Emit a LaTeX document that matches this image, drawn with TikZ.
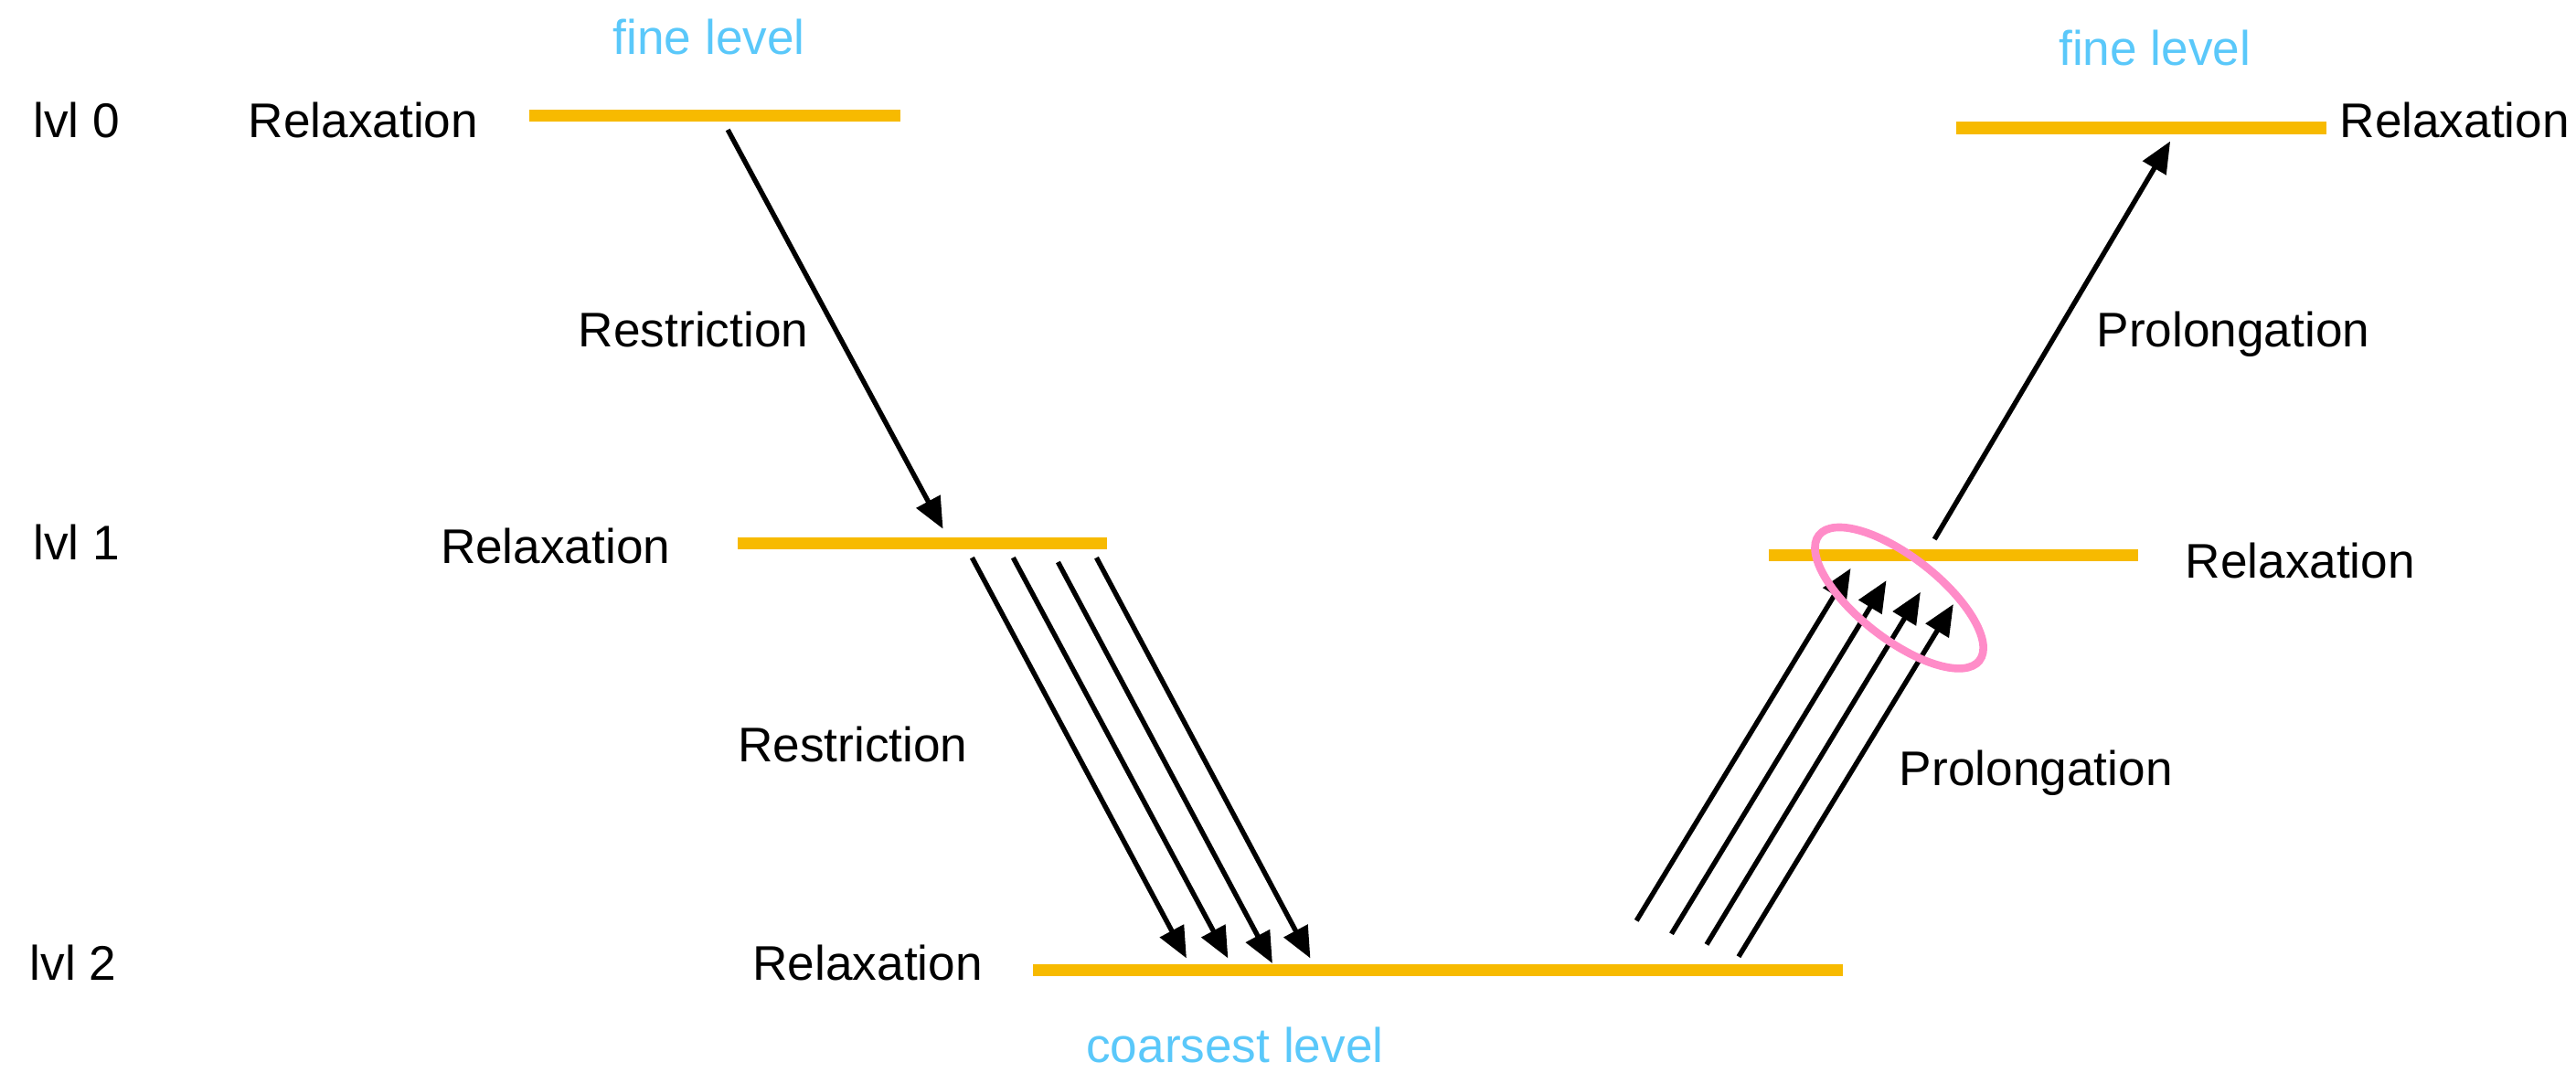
\documentclass[tikz,border=0pt]{standalone}
\usepackage{fontspec}
\setmainfont{Liberation Sans}
\usetikzlibrary{arrows.meta}
\definecolor{barc}{RGB}{247,186,0}
\definecolor{lvlblue}{RGB}{90,200,250}
\definecolor{ringpink}{RGB}{255,140,200}
\begin{document}
\begin{tikzpicture}[x=1pt,y=-1pt,
  lbl/.style={anchor=base west,inner sep=0pt,font=\fontsize{29.6}{34}\selectfont},
  bluelbl/.style={lbl,text=lvlblue},
  bar/.style={draw=barc,line width=7.4pt},
  arr/.style={line width=3pt,-{Triangle[length=19pt,width=16pt]}},
  ring/.style={draw=ringpink,line width=4.8pt}
  ]
\useasboundingbox (0,0) rectangle (1568,653);
% level bars
\coordinate (b0l) at (322,70.3);  \coordinate (b0r) at (548,70.3);
\coordinate (b1l) at (449,330.6); \coordinate (b1r) at (674,330.6);
\coordinate (b2l) at (629,590.8); \coordinate (b2r) at (1121.5,590.8);
\coordinate (c1l) at (1076.6,338.2); \coordinate (c1r) at (1301.7,338.2);
\coordinate (c0l) at (1191,77.9); \coordinate (c0r) at (1416,77.9);
\draw[bar] (b0l) -- (b0r);
\draw[bar] (b1l) -- (b1r);
\draw[bar] (b2l) -- (b2r);
\draw[bar] (c1l) -- (c1r);
\draw[bar] (c0l) -- (c0r);
% labels
\node[lbl] (l0) at (20,84) {lvl 0};
\node[lbl] (l1) at (20,341) {lvl 1};
\node[lbl] (l2) at (18,597) {lvl 2};
\node[bluelbl] (fineL) at (373,33) {fine level};
\node[bluelbl] (fineR) at (1253,40) {fine level};
\node[bluelbl] (coarse) at (661,647) {coarsest level};
\node[lbl] (rx0) at (151,84) {Relaxation};
\node[lbl] (rx1) at (268,343) {Relaxation};
\node[lbl] (rx2) at (458,597) {Relaxation};
\node[lbl] (rx3) at (1330,352) {Relaxation};
\node[lbl] (rx4) at (1424,84) {Relaxation};
\node[lbl] (rs0) at (352,211) {Restriction};
\node[lbl] (rs1) at (449,464) {Restriction};
\node[lbl] (pr0) at (1156,478) {Prolongation};
\node[lbl] (pr1) at (1276,211) {Prolongation};
% arrow end points
\coordinate (r0s) at (443,79);    \coordinate (r0e) at (574,322);
\coordinate (a1s) at (591.7,339.5); \coordinate (a1e) at (722.2,583.4);
\coordinate (a2s) at (616.7,339.5); \coordinate (a2e) at (747.5,583.4);
\coordinate (a3s) at (644.0,342.2); \coordinate (a3e) at (774.5,586.5);
\coordinate (a4s) at (667.4,339.5); \coordinate (a4e) at (797.6,583.4);
\coordinate (u1s) at (996.1,560.5); \coordinate (u1e) at (1126.5,346.0);
\coordinate (u2s) at (1017.4,568.5); \coordinate (u2e) at (1148.2,353.4);
\coordinate (u3s) at (1038.8,575.0); \coordinate (u3e) at (1169.0,360.4);
\coordinate (u4s) at (1058.3,582.4); \coordinate (u4e) at (1189.0,367.8);
\coordinate (p0s) at (1177.5,328.3); \coordinate (p0e) at (1321,86);
\draw[arr] (r0s) -- (r0e);
\draw[arr] (a1s) -- (a1e);
\draw[arr] (a2s) -- (a2e);
\draw[arr] (a3s) -- (a3e);
\draw[arr] (a4s) -- (a4e);
\draw[arr] (u1s) -- (u1e);
\draw[arr] (u2s) -- (u2e);
\draw[arr] (u3s) -- (u3e);
\draw[arr] (u4s) -- (u4e);
\draw[arr] (p0s) -- (p0e);
% highlight ring
\coordinate (rc) at (1156,364);
\draw[ring,rotate around={-38:(rc)}] (rc) ellipse [x radius=62pt, y radius=25pt];
\end{tikzpicture}
\end{document}
